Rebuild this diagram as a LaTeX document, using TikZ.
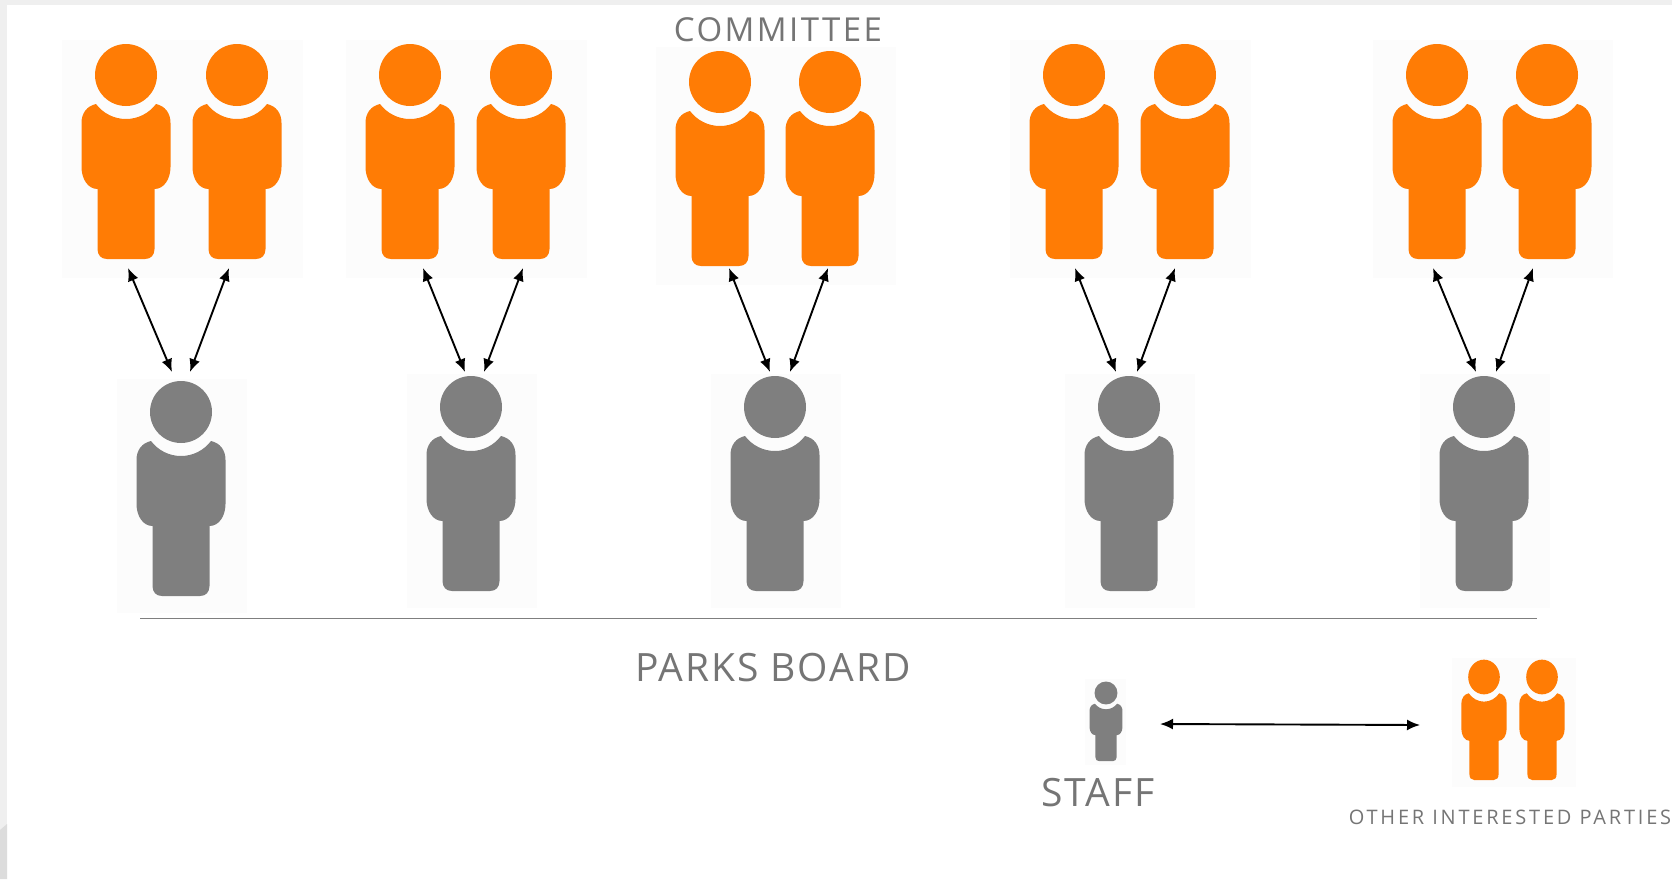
\documentclass[tikz,border=0pt]{standalone}
\usepackage{fontspec}
\setmainfont{Open Sans}
\usetikzlibrary{arrows.meta}
\definecolor{personorange}{HTML}{FF7C05}
\definecolor{persongray}{HTML}{7F7F7F}
\definecolor{labelgray}{HTML}{757575}
\definecolor{iconback}{HTML}{FCFCFC}
\definecolor{frameback}{HTML}{EFEFEF}
\tikzset{
    link/.style={{Latex[length=6.5pt,width=5.5pt]}-{Latex[length=6.5pt,width=5.5pt]}, line width=0.95pt, black},
    caption/.style={text=labelgray, inner sep=0pt, anchor=center},
    pics/person/.style={code={
        \fill[#1] (0,0) circle[radius=31];
        \fill[#1] (-30,29) .. controls (-22.9,38.4) and (-11.8,44) .. (0,44)
            .. controls (11.8,44) and (22.9,38.4) .. (30,29)
            .. controls (39,31) and (44.5,38) .. (44.5,48) -- (44.5,92)
            .. controls (44.5,104) and (38,114) .. (28.5,114) -- (28.5,174)
            .. controls (28.5,180) and (25,184) .. (19,184) -- (-19,184)
            .. controls (-25,184) and (-28.5,180) .. (-28.5,174) -- (-28.5,114)
            .. controls (-38,114) and (-44.5,104) .. (-44.5,92) -- (-44.5,48)
            .. controls (-44.5,38) and (-39,31) .. (-30,29) -- cycle;
    }}
}
\begin{document}
\begin{tikzpicture}[x=0.5pt, y=-0.5pt]
    % Page
    \fill[frameback] (0,0) rectangle (1672,879);
    \fill[white] (7,5) rectangle (1672,879);
    \fill[frameback!92!black] (0,830) -- (7,824) -- (7,879) -- (0,879) -- cycle;
    \useasboundingbox (0,0) rectangle (1672,879);

    % Committee pairs
    \foreach \xa/\xb/\yh in {126/237/75, 410/521/75, 720/830/82, 1074/1185/75, 1437/1547/75} {
        \fill[iconback] (\xa-64,\yh-35) rectangle (\xb+66,\yh+203);
        \pic at (\xa,\yh) {person=personorange};
        \pic at (\xb,\yh) {person=personorange};
    }

    % Parks board members
    \foreach \xh/\yh in {181/412, 471/407, 775/407, 1129/407, 1484/407} {
        \fill[iconback] (\xh-64,\yh-33) rectangle (\xh+66,\yh+201);
        \pic at (\xh,\yh) {person=persongray};
    }

    % Links between them
    \foreach \n/\xa/\xb/\xc/\xd in {1/128/172/229/190, 2/423/465/523/484, 3/729/770/828/790,
                                    4/1075/1116/1175/1137, 5/1433/1476/1533/1496} {
        \coordinate (memberL\n) at (\xa,268);
        \coordinate (boardL\n) at (\xb,372);
        \coordinate (memberR\n) at (\xc,268);
        \coordinate (boardR\n) at (\xd,372);
        \draw[link] (memberL\n) -- (boardL\n);
        \draw[link] (memberR\n) -- (boardR\n);
    }

    % Divider
    \coordinate (ruleL) at (140,618.5);
    \coordinate (ruleR) at (1537,618.5);
    \draw[persongray, line width=0.45pt] (ruleL) -- (ruleR);

    % Staff and other parties
    \fill[iconback] (1085,679) rectangle (1126,765);
    \pic[scale=0.37] at (1106,693) {person=persongray};
    \fill[iconback] (1452,658) rectangle (1576,787);
    \pic[xscale=0.51, yscale=0.56] at (1484,677) {person=personorange};
    \pic[xscale=0.51, yscale=0.56] at (1542,677) {person=personorange};
    \coordinate (staffEnd) at (1160,724);
    \coordinate (partiesEnd) at (1420,725);
    \draw[link] (staffEnd) -- (partiesEnd);

    % Labels
    \node[caption, font=\fontsize{16.5}{18}\selectfont\addfontfeatures{LetterSpace=7.4}] (committee) at (778,30) {COMMITTEE};
    \node[caption, font=\fontsize{19.5}{24}\selectfont\addfontfeatures{LetterSpace=4.9}] (parksboard) at (773,668) {PARKS BOARD};
    \node[caption, font=\fontsize{19.5}{24}\selectfont\addfontfeatures{LetterSpace=5.1}] (staff) at (1098,793) {STAFF};
    \node[caption, font=\fontsize{10}{13}\selectfont\addfontfeatures{LetterSpace=14}] (parties) at (1510,817) {OTHER INTERESTED PARTIES};
\end{tikzpicture}
\end{document}
